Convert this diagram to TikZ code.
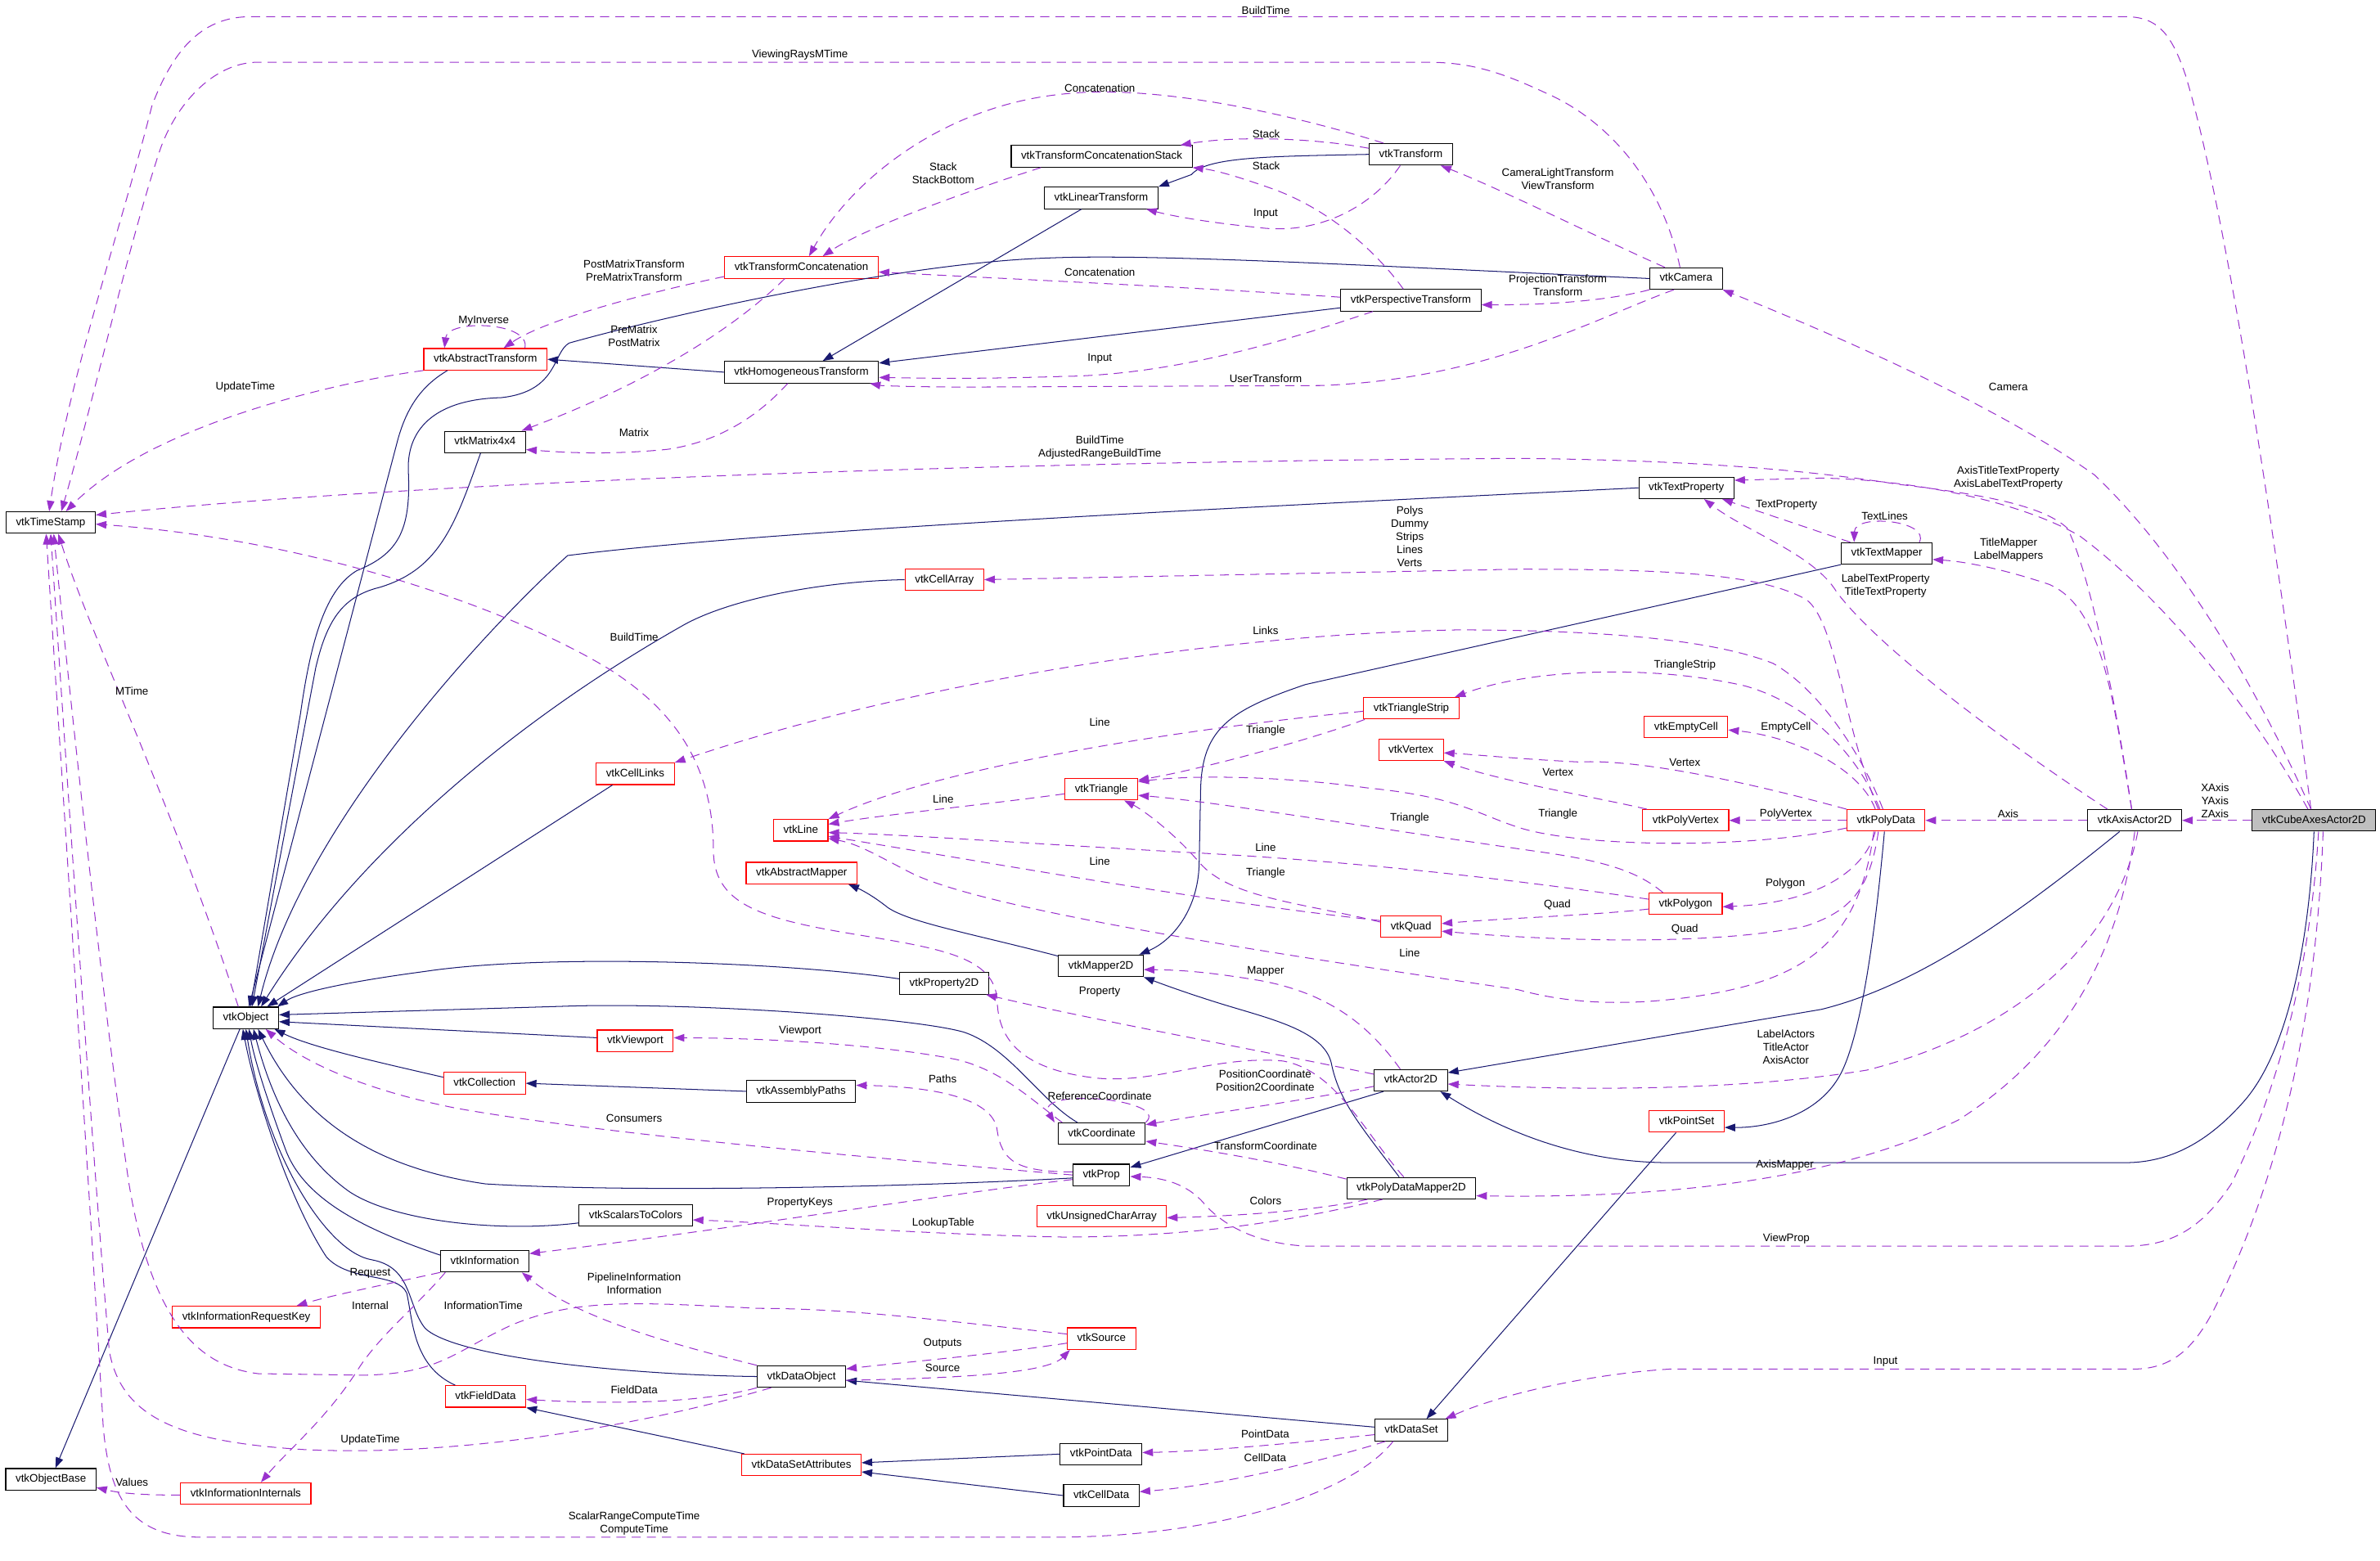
\documentclass[tikz,border=0pt]{standalone}
\usepackage{fontspec}
\setmainfont{Liberation Sans}
\usepackage{tikz}
\usetikzlibrary{arrows.meta}
\definecolor{dxnavy}{HTML}{191970}
\definecolor{dxorchid}{HTML}{9A32CD}
\definecolor{dxgrey}{HTML}{BFBFBF}
\newcommand{\dxfont}{\fontsize{7.2}{8.6}\selectfont}

\begin{document}
\begin{tikzpicture}[x=1pt, y=-1pt,
  cls/.style={draw, line width=0.6pt, fill=white, inner xsep=6.5pt, inner ysep=0pt, minimum height=14.2pt, text height=5.3pt, text depth=1.5pt, font=\dxfont},
  clsred/.style={cls, draw=red},
  clsmain/.style={cls, fill=dxgrey},
  lbl/.style={align=center, inner sep=0pt, font=\dxfont},
  inh/.style={draw=dxnavy, line width=0.55pt, -{Triangle[length=7pt,width=5pt]}},
  usage/.style={draw=dxorchid, line width=0.55pt, dash pattern=on 6pt off 4pt, -{Triangle[length=7pt,width=5pt]}}]

  \useasboundingbox (0,0) rectangle (1568,1028);

  % classes
  \node[clsmain] (cube) at (1524.5,540.5) {vtkCubeAxesActor2D};
  \node[cls] (axis) at (1406.4,540.5) {vtkAxisActor2D};
  \node[clsred] (pd) at (1242.5,540.5) {vtkPolyData};
  \node[clsred] (pvert) at (1110.6,540.5) {vtkPolyVertex};
  \node[clsred] (empty) at (1110.8,478.9) {vtkEmptyCell};
  \node[clsred] (vert) at (929.6,494) {vtkVertex};
  \node[clsred] (tstrip) at (929.8,466.6) {vtkTriangleStrip};
  \node[clsred] (tri) at (725.6,520) {vtkTriangle};
  \node[clsred] (vline) at (527.6,547) {vtkLine};
  \node[clsred] (clinks) at (418.5,509.8) {vtkCellLinks};
  \node[clsred] (amap) at (528.1,575.2) {vtkAbstractMapper};
  \node[clsred] (poly) at (1110.5,595.4) {vtkPolygon};
  \node[clsred] (quad) at (929.6,610.5) {vtkQuad};
  \node[cls] (map2d) at (725.3,636.3) {vtkMapper2D};
  \node[cls] (prop2d) at (622,647.9) {vtkProperty2D};
  \node[cls] (obj) at (162,670.6) {vtkObject};
  \node[clsred] (vport) at (418.5,685.7) {vtkViewport};
  \node[clsred] (coll) at (319.2,713.7) {vtkCollection};
  \node[cls] (apaths) at (527.8,719) {vtkAssemblyPaths};
  \node[cls] (coord) at (725.8,746.9) {vtkCoordinate};
  \node[cls] (actor) at (929.5,711.7) {vtkActor2D};
  \node[clsred] (pset) at (1111.2,738.8) {vtkPointSet};
  \node[cls] (prop) at (725.6,774.1) {vtkProp};
  \node[cls] (pdmap) at (929.8,782.8) {vtkPolyDataMapper2D};
  \node[clsred] (ucarr) at (725.8,801.3) {vtkUnsignedCharArray};
  \node[cls] (s2c) at (418.8,800.7) {vtkScalarsToColors};
  \node[cls] (info) at (319.4,830.9) {vtkInformation};
  \node[clsred] (rkey) at (162.3,867.7) {vtkInformationRequestKey};
  \node[clsred] (src) at (725.7,881.9) {vtkSource};
  \node[clsred] (fdata) at (319.9,920) {vtkFieldData};
  \node[cls] (dobj) at (528,906.9) {vtkDataObject};
  \node[cls] (dset) at (929.8,942.2) {vtkDataSet};
  \node[cls] (pdata) at (725.4,958) {vtkPointData};
  \node[clsred] (dsattr) at (528,965.2) {vtkDataSetAttributes};
  \node[cls] (cdata) at (725.6,985.3) {vtkCellData};
  \node[cls] (obase) at (33.5,974.6) {vtkObjectBase};
  \node[clsred] (iint) at (161.9,984) {vtkInformationInternals};
  \node[cls] (tstamp) at (33.4,344.3) {vtkTimeStamp};
  \node[cls] (mat) at (319.6,291.2) {vtkMatrix4x4};
  \node[clsred] (atrans) at (319.8,236.7) {vtkAbstractTransform};
  \node[cls] (htrans) at (528,245.2) {vtkHomogeneousTransform};
  \node[clsred] (tconc) at (528,176.2) {vtkTransformConcatenation};
  \node[cls] (tcstack) at (725.8,103) {vtkTransformConcatenationStack};
  \node[cls] (ltrans) at (725.5,130.4) {vtkLinearTransform};
  \node[cls] (trans) at (929.5,101.7) {vtkTransform};
  \node[cls] (ptrans) at (929.5,197.8) {vtkPerspectiveTransform};
  \node[cls] (cam) at (1110.8,183.5) {vtkCamera};
  \node[cls] (tprop) at (1111,321.4) {vtkTextProperty};
  \node[cls] (tmap) at (1243,364.6) {vtkTextMapper};
  \node[clsred] (carr) at (622.2,381.9) {vtkCellArray};

  % inheritance
  \draw[inh] ([xshift=-4pt]obj.south) -- ([xshift=3pt]obase.north);
  \draw[inh] ([xshift=-25pt]atrans.south) .. controls (278,254) and (268,268) .. (262,290) -- ([xshift=2pt]obj.north);
  \draw[inh] ([xshift=-3pt]mat.south) .. controls (300,345) and (290,375) .. (250,387) .. controls (225,393) and (215,410) .. (208,440) -- ([xshift=4pt]obj.north);
  \draw[inh] (cam.west) .. controls (900,175) and (760,167) .. (690,170) .. controls (600,173) and (450,205) .. (375,226) .. controls (364,232) and (368,258) .. (330,262) .. controls (290,263) and (268,280) .. (269,310) .. controls (271,350) and (262,365) .. (235,376) .. controls (215,388) and (205,420) .. (198,470) -- ([xshift=3pt]obj.north);
  \draw[inh] (tprop.west) .. controls (800,335) and (500,350) .. (374,366) .. controls (330,405) and (200,540) .. ([xshift=8pt]obj.north);
  \draw[inh] (carr.west) .. controls (540,383) and (480,395) .. (450,412) .. controls (330,480) and (230,570) .. ([xshift=10pt]obj.north);
  \draw[inh] ([xshift=-15pt]clinks.south) -- ([xshift=14pt]obj.north);
  \draw[inh] ([yshift=3pt]prop2d.west) .. controls (520,634) and (360,628) .. (280,640) .. controls (220,648) and (195,655) .. ([xshift=-1pt]obj.north east);
  \draw[inh] ([xshift=-16pt]coord.north) .. controls (685,725) and (665,690) .. (635,680) .. controls (600,670) and (450,660) .. (370,663) -- ([yshift=2pt]obj.east);
  \draw[inh] ([yshift=2pt]vport.west) -- ([yshift=-2.5pt]obj.east);
  \draw[inh] ([yshift=4pt]coll.west) .. controls (250,700) and (205,690) .. ([xshift=-3pt]obj.south east);
  \draw[inh] ([yshift=-2pt]prop.west) .. controls (600,782) and (420,786) .. (320,780) .. controls (250,770) and (200,740) .. ([xshift=8pt]obj.south);
  \draw[inh] ([yshift=-5pt]s2c.west) .. controls (330,812) and (260,805) .. (230,785) .. controls (195,760) and (178,720) .. ([xshift=5pt]obj.south);
  \draw[inh] ([yshift=4pt]info.west) .. controls (240,810) and (200,790) .. (188,757) .. controls (178,730) and (168,700) .. ([xshift=2pt]obj.south);
  \draw[inh] (dobj.west) .. controls (420,906) and (300,895) .. (280,875) .. controls (268,860) and (272,835) .. (245,830) .. controls (215,825) and (175,760) .. (obj.south);
  \draw[inh] ([xshift=-20pt]fdata.north) .. controls (272,900) and (272,870) .. (268,852) .. controls (262,838) and (230,845) .. (215,828) .. controls (190,790) and (168,720) .. ([xshift=-2pt]obj.south);
  \draw[inh] (htrans.west) -- (atrans.east);
  \draw[inh] ([xshift=-13pt]ltrans.south) -- ([xshift=14pt]htrans.north);
  \draw[inh] ([yshift=-5pt]ptrans.west) -- ([yshift=6pt]htrans.east);
  \draw[inh] (trans.west) .. controls (840,103) and (795,103) .. (785,115) -- (ltrans.north east);
  \draw[inh] (tmap.south west) -- (860,451) .. controls (810,468) and (792,480) .. (791,520) -- (790,570) .. controls (789,600) and (772,620) .. ([xshift=-3pt]map2d.north east);
  \draw[inh] ([yshift=-1pt]map2d.north west) .. controls (640,615) and (600,608) .. (585,598) .. controls (575,590) and (567,586) .. ([xshift=-6pt]amap.south east);
  \draw[inh] ([xshift=-8pt]pdmap.north) .. controls (895,740) and (882,725) .. (877,700) .. controls (872,680) and (840,672) .. (810,663) .. controls (790,657) and (770,650) .. (map2d.south east);
  \draw[inh] ([xshift=-1pt]pd.south) .. controls (1235,620) and (1225,690) .. (1210,712) .. controls (1195,735) and (1165,743) .. ([yshift=-4pt]pset.east);
  \draw[inh] ([xshift=-7pt]pset.south) -- ([xshift=10pt]dset.north);
  \draw[inh] ([yshift=2pt]dset.west) -- ([yshift=-2.5pt]dobj.east);
  \draw[inh] (pdata.west) -- ([yshift=1.5pt]dsattr.east);
  \draw[inh] (cdata.west) -- ([yshift=-4.5pt]dsattr.east);
  \draw[inh] ([xshift=2pt]dsattr.north west) -- (fdata.south east);
  \draw[inh] ([xshift=-10pt]axis.south) .. controls (1320,610) and (1260,650) .. (1200,665) -- ([yshift=5pt]actor.east);
  \draw[inh] (cube.south) .. controls (1522,610) and (1510,690) .. (1478,726) .. controls (1455,752) and (1430,766) .. (1400,766) -- (1100,766) .. controls (1040,766) and (990,745) .. ([xshift=-5pt]actor.south east);
  \draw[inh] ([xshift=-18pt]actor.south) -- ([yshift=5pt]prop.east);
  \draw[inh] (apaths.west) -- (coll.east);

  % usage
  \draw[usage] ([xshift=-2pt]cube.north) .. controls (1505,400) and (1470,150) .. (1440,50) .. controls (1430,20) and (1420,11) .. (1400,11) -- (165,11) .. controls (135,11) and (115,30) .. (100,70) .. controls (80,150) and (45,250) .. ([xshift=-1pt]tstamp.north);
  \draw[usage] ([xshift=-4pt]cam.north) .. controls (1095,120) and (1060,80) .. (1020,62) .. controls (990,48) and (970,41) .. (940,41) -- (170,41) .. controls (140,41) and (115,70) .. (105,100) .. controls (85,160) and (60,270) .. ([xshift=7pt]tstamp.north);
  \draw[usage] (atrans.south west) .. controls (220,252) and (100,280) .. ([xshift=10pt]tstamp.north);
  \draw[usage] ([xshift=-2pt]axis.north) .. controls (1395,470) and (1378,380) .. (1362,348) .. controls (1345,332) and (1300,325) .. (1250,319) .. controls (1180,308) and (1100,303) .. (1000,302) .. controls (700,304) and (300,315) .. ([yshift=5pt]tstamp.east);
  \draw[usage] ([xshift=-5pt]pdmap.north) .. controls (898,745) and (880,705) .. (845,699) .. controls (800,695) and (760,715) .. (720,710) .. controls (680,705) and (658,690) .. (657,660) .. controls (656,630) and (620,625) .. (560,615) .. controls (500,605) and (470,595) .. (470,560) .. controls (470,500) and (440,465) .. (400,440) .. controls (330,398) and (200,355) .. ([yshift=-1pt]tstamp.east);
  \draw[usage] ([xshift=-5pt]obj.north) .. controls (110,520) and (60,420) .. ([xshift=5pt]tstamp.south);
  \draw[usage] ([yshift=3pt]src.west) .. controls (620,870) and (560,862) .. (500,862) .. controls (420,858) and (380,855) .. (337,873) .. controls (300,890) and (290,905) .. (240,906) -- (170,905) .. controls (130,900) and (100,870) .. (85,780) .. controls (70,680) and (45,450) .. ([xshift=2pt]tstamp.south);
  \draw[usage] ([xshift=-20pt]dobj.south) .. controls (420,940) and (300,960) .. (200,955) .. controls (120,950) and (80,935) .. (72,890) .. controls (60,750) and (40,450) .. (tstamp.south);
  \draw[usage] ([xshift=-12pt]dset.south) .. controls (890,985) and (800,1012) .. (700,1012.7) -- (130,1012.7) .. controls (85,1012) and (72,985) .. (68,940) .. controls (60,800) and (40,500) .. ([xshift=-3pt]tstamp.south);

  \draw[usage] ([xshift=-18pt]trans.north) .. controls (850,75) and (760,55) .. (700,62) .. controls (620,70) and (560,120) .. ([xshift=5pt]tconc.north);
  \draw[usage] ([yshift=4pt]trans.west) .. controls (860,90) and (810,90) .. ([xshift=-8pt]tcstack.north east);
  \draw[usage] ([xshift=-40pt]tcstack.south) .. controls (640,125) and (570,150) .. ([xshift=14pt]tconc.north);
  \draw[usage] ([xshift=-5pt]ptrans.north) .. controls (910,170) and (880,140) .. (840,125) .. controls (815,116) and (800,112) .. (tcstack.south east);
  \draw[usage] ([xshift=-7pt]trans.south) .. controls (905,135) and (870,155) .. (830,150) .. controls (800,147) and (775,143) .. ([xshift=-8pt]ltrans.south east);
  \draw[usage] ([xshift=-14pt]cam.north) .. controls (1060,160) and (990,125) .. ([xshift=-8pt]trans.south east);
  \draw[usage] ([yshift=2pt]ptrans.west) .. controls (800,190) and (650,183) .. ([yshift=-3pt]tconc.east);
  \draw[usage] (cam.south west) .. controls (1060,198) and (1020,201) .. ([yshift=-3pt]ptrans.east);
  \draw[usage] ([xshift=-25pt]ptrans.south) .. controls (860,220) and (780,247) .. (700,248) .. controls (640,250) and (600,249) .. ([yshift=-3.5pt]htrans.east);
  \draw[usage] ([xshift=-8pt]cam.south) .. controls (1050,210) and (980,250) .. (870,254) -- (640,255) .. controls (600,255) and (580,254) .. ([xshift=-6pt]htrans.south east);
  \draw[usage] ([yshift=-6pt]tconc.west) .. controls (430,192) and (360,210) .. ([xshift=12pt]atrans.north);
  \draw[usage] ([xshift=26pt]atrans.north) .. controls (350,212) and (295,210) .. ([xshift=-27pt]atrans.north);
  \draw[usage] ([xshift=-11pt]tconc.south) .. controls (480,220) and (420,255) .. ([xshift=-3pt]mat.north east);
  \draw[usage] ([xshift=-9pt]htrans.south) .. controls (505,268) and (480,290) .. (440,296) .. controls (400,300) and (370,298) .. ([yshift=-5pt]mat.east);

  \draw[usage] ([xshift=-2pt]cube.north) .. controls (1490,460) and (1440,370) .. (1380,313) .. controls (1320,270) and (1220,225) .. (cam.south east);
  \draw[usage] ([xshift=-4pt]cube.north) .. controls (1480,460) and (1420,390) .. (1370,353) .. controls (1330,330) and (1260,316) .. (1200,315) -- ([yshift=5pt]tprop.east);
  \draw[usage] ([xshift=-24pt]tmap.north) -- ([xshift=-8pt]tprop.south east);
  \draw[usage] ([xshift=-18pt]axis.north) .. controls (1330,495) and (1240,430) .. (1210,390) .. controls (1195,365) and (1150,350) .. ([xshift=-20pt]tprop.south east);
  \draw[usage] ([xshift=21.5pt]tmap.north) .. controls (1272,343) and (1222,338) .. ([xshift=-21.5pt]tmap.north);
  \draw[usage] ([xshift=-2pt]axis.north) .. controls (1392,460) and (1385,400) .. (1350,385) .. controls (1320,375) and (1295,370) .. ([yshift=-4pt]tmap.east);

  \draw[usage] ([xshift=-5pt]pd.north) .. controls (1215,480) and (1210,410) .. (1190,395) .. controls (1160,378) and (1100,375) .. (1000,375) -- (carr.east);
  \draw[usage] ([xshift=-2pt]pd.north) .. controls (1228,500) and (1200,455) .. (1168,437) .. controls (1130,422) and (1060,415) .. (960,415) .. controls (800,418) and (600,450) .. (clinks.north east);
  \draw[usage] ([xshift=-4pt]pd.north) .. controls (1225,500) and (1195,465) .. (1150,452) .. controls (1090,438) and (1010,440) .. ([xshift=-3pt]tstrip.north east);
  \draw[usage] ([xshift=-7pt]pd.north) .. controls (1225,505) and (1180,485) .. ([yshift=-2pt]empty.east);
  \draw[usage] (pd.north west) .. controls (1150,515) and (1080,500) .. (1040,502) .. controls (1000,500) and (970,497) .. ([yshift=-2pt]vert.east);
  \draw[usage] ([xshift=3pt]pvert.north west) .. controls (1050,525) and (990,515) .. (vert.south east);
  \draw[usage] (pd.west) -- (pvert.east);
  \draw[usage] (axis.west) -- (pd.east);
  \draw[usage] (cube.west) -- (axis.east);

  \draw[usage] ([yshift=-5pt]pd.west) .. controls (1150,560) and (1040,558) .. (1000,545) .. controls (970,535) and (960,525) .. (900,519) .. controls (850,512) and (790,510) .. ([yshift=5pt]tri.east);
  \draw[usage] ([xshift=1pt]tstrip.south west) .. controls (870,485) and (800,505) .. ([yshift=6pt]tri.east);
  \draw[usage] ([xshift=-15pt]poly.north) .. controls (1080,575) and (1060,568) .. (1020,562) .. controls (900,545) and (800,528) .. ([yshift=-4pt]tri.east);
  \draw[usage] ([yshift=3pt]quad.west) .. controls (860,595) and (810,592) .. (790,568) .. controls (770,545) and (750,532) .. ([xshift=15pt]tri.south);
  \draw[usage] ([yshift=-2pt]tstrip.west) .. controls (780,480) and (620,505) .. (vline.north east);
  \draw[usage] ([yshift=-3pt]tri.west) .. controls (650,530) and (580,537) .. ([yshift=4pt]vline.east);
  \draw[usage] ([yshift=3pt]poly.west) .. controls (1000,580) and (900,568) .. (790,562) .. controls (680,556) and (600,550) .. ([yshift=-1.5pt]vline.east);
  \draw[usage] ([yshift=4pt]quad.west) .. controls (800,595) and (650,568) .. ([yshift=-4pt]vline.east);
  \draw[usage] ([xshift=-8pt]pd.south) .. controls (1225,620) and (1190,645) .. (1120,656) .. controls (1080,662) and (1040,663) .. (1000,652) .. controls (850,630) and (650,600) .. (600,575) .. controls (575,562) and (565,556) .. ([yshift=2pt]vline.south east);
  \draw[usage] ([yshift=-3.5pt]poly.west) .. controls (1050,603) and (990,605) .. ([yshift=2pt]quad.east);
  \draw[usage] ([xshift=-5pt]pd.south) .. controls (1232,585) and (1220,600) .. (1190,610) .. controls (1140,621) and (1050,622) .. ([yshift=-3pt]quad.east);
  \draw[usage] ([xshift=-7pt]pd.south) .. controls (1228,575) and (1195,595) .. ([yshift=-2pt]poly.east);

  \draw[usage] ([xshift=2pt]axis.south) .. controls (1395,620) and (1330,680) .. (1230,705) .. controls (1150,718) and (1050,719) .. ([yshift=-2.5pt]actor.east);
  \draw[usage] (axis.south) .. controls (1395,640) and (1350,700) .. (1290,738) .. controls (1220,772) and (1120,790) .. ([yshift=-5pt]pdmap.east);
  \draw[usage] ([xshift=3pt]cube.south) .. controls (1522,640) and (1500,720) .. (1470,780) .. controls (1450,810) and (1430,821) .. (1400,821) -- (860,821) .. controls (830,819) and (810,810) .. (795,795) .. controls (785,782) and (770,776) .. ([yshift=-1pt]prop.east);
  \draw[usage] ([xshift=6pt]cube.south) .. controls (1525,700) and (1490,800) .. (1460,860) .. controls (1445,890) and (1430,902) .. (1405,902) -- (1100,902) .. controls (1050,905) and (990,918) .. ([xshift=-2pt]dset.north east);

  \draw[usage] ([xshift=-7pt]actor.north) .. controls (905,680) and (880,655) .. (830,646) .. controls (800,641) and (780,639) .. ([yshift=-2.5pt]map2d.east);
  \draw[usage] ([yshift=4pt]actor.west) .. controls (830,692) and (720,672) .. ([xshift=-2pt]prop2d.south east);
  \draw[usage] ([yshift=-4pt]actor.west) .. controls (860,725) and (800,733) .. ([yshift=-1.5pt]coord.north east);
  \draw[usage] ([yshift=6pt]pdmap.west) .. controls (840,765) and (790,757) .. ([yshift=-5pt]coord.east);
  \draw[usage] (coord.north east) .. controls (772,724) and (680,716) .. ([xshift=-2pt]coord.north west);
  \draw[usage] ([xshift=3pt]coord.north west) .. controls (680,725) and (660,705) .. (630,698) .. controls (590,690) and (520,684) .. ([yshift=2pt]vport.east);
  \draw[usage] ([yshift=2pt]prop.west) .. controls (670,772) and (660,765) .. (657,745) .. controls (655,725) and (620,716) .. ([yshift=4pt]apaths.east);
  \draw[usage] (prop.west) .. controls (600,765) and (400,748) .. (300,730) .. controls (240,718) and (200,700) .. ([xshift=13pt]obj.south);
  \draw[usage] ([yshift=-3pt]prop.west) .. controls (620,787) and (480,810) .. ([yshift=5pt]info.east);
  \draw[usage] ([xshift=-19pt]pdmap.south) .. controls (870,800) and (800,815) .. (700,815) .. controls (600,813) and (520,806) .. ([yshift=-3pt]s2c.east);
  \draw[usage] ([xshift=-29pt]pdmap.south) .. controls (870,797) and (820,801) .. ([yshift=-1pt]ucarr.east);

  \draw[usage] (info.south west) .. controls (260,845) and (220,853) .. ([xshift=-16pt]rkey.north east);
  \draw[usage] ([xshift=-26pt]info.south) .. controls (275,860) and (250,880) .. (236,902) .. controls (215,935) and (190,955) .. ([xshift=10pt]iint.north);
  \draw[usage] ([yshift=-1pt]iint.west) .. controls (95,985) and (80,984) .. ([yshift=2pt]obase.south east);
  \draw[usage] (dobj.north west) .. controls (440,885) and (380,868) .. ([xshift=-5pt]info.south east);
  \draw[usage] (dobj.south west) .. controls (460,925) and (400,925) .. ([yshift=-2pt]fdata.east);
  \draw[usage] ([yshift=-3pt]src.west) .. controls (650,893) and (590,898) .. ([yshift=5pt]dobj.east);
  \draw[usage] ([yshift=-2.5pt]dobj.east) .. controls (630,908) and (690,905) .. ([xshift=2pt]src.south west);
  \draw[usage] ([yshift=-3pt]dset.west) .. controls (860,950) and (800,956) .. ([yshift=1pt]pdata.east);
  \draw[usage] ([xshift=-17pt]dset.south) .. controls (880,960) and (810,978) .. ([yshift=2.5pt]cdata.east);

  % edge labels
  \node[lbl] (lbuild) at (833.9,6.8) {BuildTime};
  \node[lbl] (lrays) at (527,36) {ViewingRaysMTime};
  \node[lbl] (lconc1) at (724.6,57.9) {Concatenation};
  \node[lbl] (lstack1) at (834.2,88) {Stack};
  \node[lbl] (lstack2) at (834.2,109.4) {Stack};
  \node[lbl] (lstackb) at (621.4,114) {Stack\\StackBottom};
  \node[lbl] (lcamlt) at (1026.3,117.8) {CameraLightTransform\\ViewTransform};
  \node[lbl] (linput1) at (833.9,140.7) {Input};
  \node[lbl] (lpmt) at (417.7,178.4) {PostMatrixTransform\\PreMatrixTransform};
  \node[lbl] (lconc2) at (724.6,179.3) {Concatenation};
  \node[lbl] (lproj) at (1026.3,188.1) {ProjectionTransform\\Transform};
  \node[lbl] (linv) at (318.7,211.7) {MyInverse};
  \node[lbl] (lprem) at (417.7,221.4) {PreMatrix\\PostMatrix};
  \node[lbl] (linput2) at (724.6,236.4) {Input};
  \node[lbl] (luser) at (833.9,249.6) {UserTransform};
  \node[lbl] (lupd1) at (161.6,254.8) {UpdateTime};
  \node[lbl] (lcam) at (1323.1,254.8) {Camera};
  \node[lbl] (lmat) at (417.7,285) {Matrix};
  \node[lbl] (ladj) at (724.6,294.7) {BuildTime\\AdjustedRangeBuildTime};
  \node[lbl] (laxtp) at (1323.1,314.7) {AxisTitleTextProperty\\AxisLabelTextProperty};
  \node[lbl] (ltp) at (1177,332.6) {TextProperty};
  \node[lbl] (ltl) at (1241.7,339.9) {TextLines};
  \node[lbl] (lpolys) at (928.8,353.4) {Polys\\Dummy\\Strips\\Lines\\Verts};
  \node[lbl] (ltm) at (1323.3,362) {TitleMapper\\LabelMappers};
  \node[lbl] (lltp) at (1242.2,385.8) {LabelTextProperty\\TitleTextProperty};
  \node[lbl] (lbuild2) at (417.8,419.8) {BuildTime};
  \node[lbl] (llinks) at (833.8,415.4) {Links};
  \node[lbl] (ltstrip) at (1110,438.1) {TriangleStrip};
  \node[lbl] (lmtime) at (86.9,455.2) {MTime};
  \node[lbl] (lline1) at (724.5,475.7) {Line};
  \node[lbl] (lempty) at (1176.6,479) {EmptyCell};
  \node[lbl] (ltri1) at (833.8,481.2) {Triangle};
  \node[lbl] (lvert1) at (1110,502.1) {Vertex};
  \node[lbl] (lvert2) at (1026.4,508.7) {Vertex};
  \node[lbl] (lxyz) at (1459.3,527.4) {XAxis\\YAxis\\ZAxis};
  \node[lbl] (lline2) at (621.4,526.3) {Line};
  \node[lbl] (ltri2) at (1026.4,536.2) {Triangle};
  \node[lbl] (lpvert) at (1176.6,536.2) {PolyVertex};
  \node[lbl] (laxis) at (1323,536.2) {Axis};
  \node[lbl] (ltri3) at (928.7,538.8) {Triangle};
  \node[lbl] (lline3) at (833.8,558.2) {Line};
  \node[lbl] (lline4) at (724.5,567.4) {Line};
  \node[lbl] (ltri4) at (833.8,575.1) {Triangle};
  \node[lbl] (lpoly) at (1176.2,582.2) {Polygon};
  \node[lbl] (lquad1) at (1026,596.2) {Quad};
  \node[lbl] (lquad2) at (1110,612.5) {Quad};
  \node[lbl] (lline5) at (928.7,627.7) {Line};
  \node[lbl] (lmapper) at (833.8,639.8) {Mapper};
  \node[lbl] (lprop) at (724.5,653.7) {Property};
  \node[lbl] (lvport) at (527.2,679.2) {Viewport};
  \node[lbl] (lactors) at (1176.6,689.6) {LabelActors\\TitleActor\\AxisActor};
  \node[lbl] (lposc) at (833.5,711.8) {PositionCoordinate\\Position2Coordinate};
  \node[lbl] (lpaths) at (621,710.7) {Paths};
  \node[lbl] (lrefc) at (724.5,721.9) {ReferenceCoordinate};
  \node[lbl] (lcons) at (417.8,737) {Consumers};
  \node[lbl] (ltransc) at (833.8,754.8) {TransformCoordinate};
  \node[lbl] (laxmap) at (1175.9,767.5) {AxisMapper};
  \node[lbl] (lcolors) at (833.8,791.3) {Colors};
  \node[lbl] (lpkeys) at (527,792.7) {PropertyKeys};
  \node[lbl] (llut) at (621.4,805.6) {LookupTable};
  \node[lbl] (lvprop) at (1176.9,816.3) {ViewProp};
  \node[lbl] (lreq) at (243.9,838.6) {Request};
  \node[lbl] (lpinfo) at (417.8,845.6) {PipelineInformation\\Information};
  \node[lbl] (lint) at (243.9,859.9) {Internal};
  \node[lbl] (litime) at (318.4,859.9) {InformationTime};
  \node[lbl] (louts) at (621,885.1) {Outputs};
  \node[lbl] (linput3) at (1242.2,897.3) {Input};
  \node[lbl] (lsrc) at (621,901.4) {Source};
  \node[lbl] (lfdata) at (417.8,915.8) {FieldData};
  \node[lbl] (lpdata) at (833.5,944.6) {PointData};
  \node[lbl] (lupd2) at (243.9,948.8) {UpdateTime};
  \node[lbl] (lcdata) at (833.5,960.6) {CellData};
  \node[lbl] (lvals) at (86.9,976.8) {Values};
  \node[lbl] (lsrct) at (417.8,1003.6) {ScalarRangeComputeTime\\ComputeTime};
\end{tikzpicture}
\end{document}
